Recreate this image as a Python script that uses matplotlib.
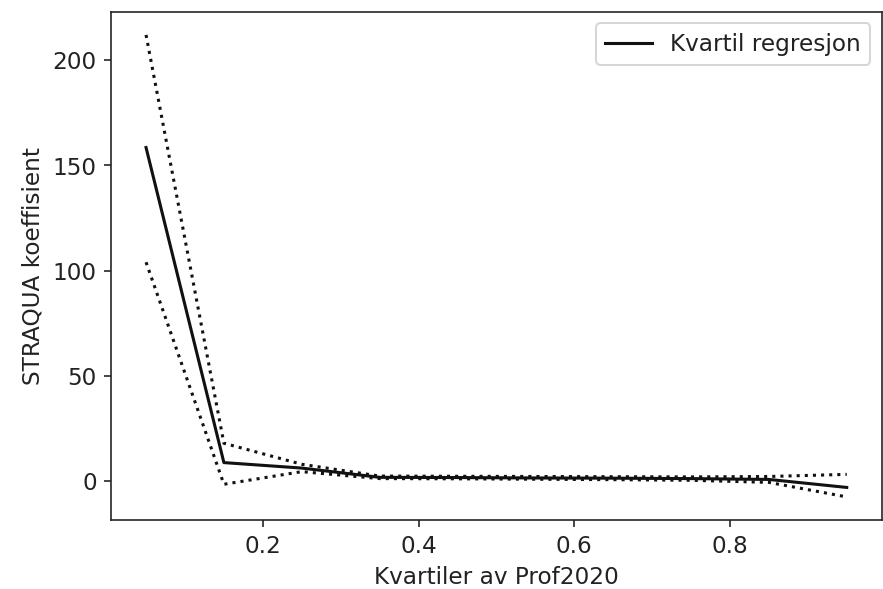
import matplotlib
matplotlib.use("Agg")
import matplotlib.pyplot as plt

quantiles = [0.05, 0.15, 0.25, 0.35, 0.45, 0.55, 0.65, 0.75, 0.85, 0.95]
coef = [158.5, 8.8, 6.2, 1.8, 1.7, 1.5, 1.4, 1.2, 0.8, -3.0]
upper = [212.0, 18.0, 8.0, 2.4, 2.3, 2.2, 2.1, 2.0, 2.2, 3.2]
lower = [104.0, -1.5, 4.5, 1.2, 1.1, 0.9, 0.7, 0.4, -0.6, -7.5]

plt.rcParams["font.size"] = 11.3
plt.rcParams["text.color"] = "#222222"
plt.rcParams["axes.labelcolor"] = "#222222"
plt.rcParams["xtick.color"] = "#222222"
plt.rcParams["ytick.color"] = "#222222"
plt.rcParams["axes.edgecolor"] = "#222222"

fig = plt.figure(figsize=(6, 4), dpi=147.3)
ax = fig.add_axes([0.1256, 0.1171, 0.8721, 0.8625])
ax.plot(quantiles, coef, color="#111111", lw=1.5, label="Kvartil regresjon")
ax.plot(quantiles, upper, color="#111111", ls="dotted")
ax.plot(quantiles, lower, color="#111111", ls="dotted")
ax.set_xlabel("Kvartiler av Prof2020")
ax.set_ylabel("STRAQUA koeffisient")
ax.set_xticks([0.2, 0.4, 0.6, 0.8])
ax.legend(loc="upper right")
fig.savefig("out.png", dpi=147.3)
